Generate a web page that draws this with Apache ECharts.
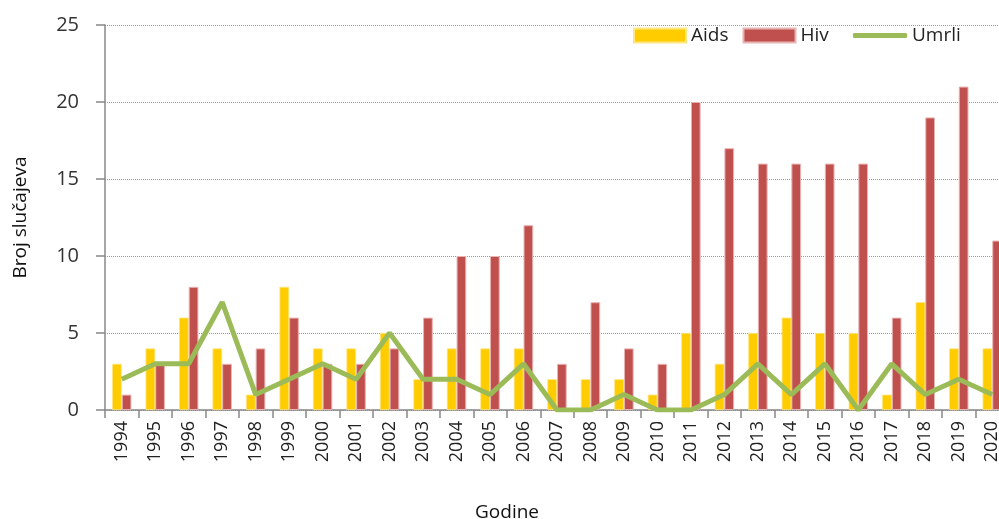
<!DOCTYPE html>
<html>
<head>
<meta charset="utf-8">
<script src="https://cdn.jsdelivr.net/npm/echarts@6/dist/echarts.min.js"></script>
<style>
html,body{margin:0;padding:0;background:#fff;}
#c{width:999px;height:519px;}
</style>
</head>
<body>
<div id="c"></div>
<script>
const years = ['1994','1995','1996','1997','1998','1999','2000','2001','2002','2003','2004','2005','2006','2007','2008','2009','2010','2011','2012','2013','2014','2015','2016','2017','2018','2019','2020'];
const aids  = [3,4,6,4,1,8,4,4,5,2,4,4,4,2,2,2,1,5,3,5,6,5,5,1,7,4,4];
const hiv   = [1,3,8,3,4,6,3,3,4,6,10,10,12,3,7,4,3,20,17,16,16,16,16,6,19,21,11];
const umrli = [2,3,3,7,1,2,3,2,5,2,2,1,3,0,0,1,0,0,1,3,1,3,0,3,1,2,1];

const font = 'Open Sans';
const chart = echarts.init(document.getElementById('c'));
chart.setOption({
  animation: false,
  textStyle: {fontFamily: font},
  grid: {left: 105, right: -10, top: 25, bottom: 109, containLabel: false, outerBoundsMode: 'none'},
  legend: [
    {
      top: 21, left: 628,
      itemWidth: 52, itemHeight: 14, itemGap: 14,
      textStyle: {fontSize: 19, color: '#222', fontFamily: font},
      data: [{name: 'Aids', icon: 'rect'}, {name: 'Hiv', icon: 'rect'}]
    },
    {
      top: 21, left: 848,
      itemWidth: 54, itemHeight: 5,
      textStyle: {fontSize: 19, color: '#222', fontFamily: font},
      data: [{name: 'Umrli', icon: 'roundRect'}],
      itemStyle: {color: '#9BBB59'}
    }
  ],
  xAxis: {
    type: 'category',
    data: years,
    name: 'Godine',
    nameLocation: 'middle',
    nameGap: 93,
    nameTextStyle: {fontSize: 19, color: '#111', padding: [0,0,0,-100]},
    axisLine: {lineStyle: {color: '#888', width: 1.5}},
    axisTick: {show: true, length: 8, lineStyle: {color: '#888', width: 1.5}},
    axisLabel: {rotate: 90, fontSize: 18, color: '#222', margin: 11, interval: 0}
  },
  yAxis: {
    type: 'value',
    min: 0, max: 25, interval: 5,
    name: 'Broj slučajeva',
    nameLocation: 'middle',
    nameGap: 75,
    nameTextStyle: {fontSize: 19, color: '#111'},
    axisLine: {show: true, lineStyle: {color: '#888', width: 1.5}},
    axisTick: {show: true, length: 9, lineStyle: {color: '#888', width: 1.5}},
    axisLabel: {fontSize: 20, color: '#333', margin: 26},
    splitLine: {lineStyle: {color: '#999', type: 'dotted', width: 1}}
  },
  series: [
    {
      name: 'Aids', type: 'bar', data: aids,
      barGap: '0%', barCategoryGap: '42%',
      itemStyle: {color: '#FFCC00', borderColor: '#FFE680', borderWidth: 0.8}
    },
    {
      name: 'Hiv', type: 'bar', data: hiv,
      itemStyle: {color: '#C0504D', borderColor: '#E8B4B3', borderWidth: 1}
    },
    {
      name: 'Umrli', type: 'line', data: umrli,
      symbol: 'none',
      lineStyle: {color: '#9BBB59', width: 5},
      itemStyle: {color: '#9BBB59'}
    }
  ]
});
</script>
</body>
</html>
